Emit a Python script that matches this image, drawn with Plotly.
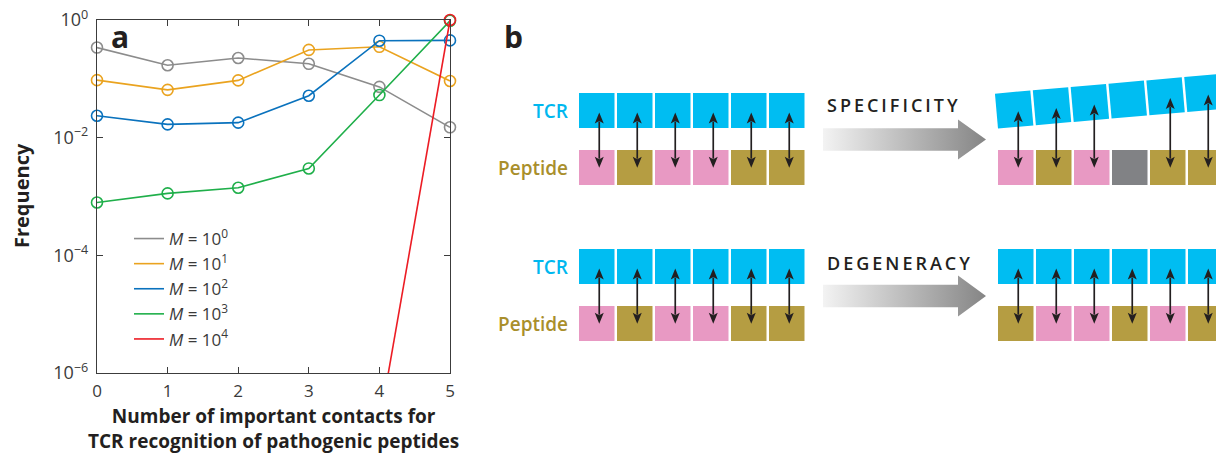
import math
import plotly.graph_objects as go

# ---------------- Panel a data ----------------
contacts = [0, 1, 2, 3, 4, 5]
m_labels = ["0", "1", "2", "3", "4"]
freq_m1 = [0.34, 0.17, 0.226, 0.18, 0.073, 0.015]
freq_m10 = [0.095, 0.065, 0.094, 0.31, 0.35, 0.092]
freq_m100 = [0.0236, 0.0168, 0.018, 0.0516, 0.445, 0.45]
freq_m1000 = [7.9e-4, 1.13e-3, 1.41e-3, 3.0e-3, 0.053, 0.97]
freq_m10000 = [None, None, None, None, 1.35e-7, 1.0]
series_colors = ["#8c8c8c", "#eaa31f", "#0a72bd", "#1faf4a", "#ec1c24"]

y_tick_vals = [1e-6, 1e-4, 1e-2, 1]
y_tick_text = ["10<sup>\u22126</sup>", "10<sup>\u22124</sup>",
               "10<sup>\u22122</sup>", "10<sup>0</sup>"]
y_min_exp, y_max_exp = -6, 0

# ---------------- Panel b data ----------------
peptide_left = ["P", "O", "P", "P", "O", "O"]
peptide_spec = ["P", "O", "P", "X", "O", "O"]
peptide_degen = ["O", "P", "P", "O", "P", "O"]
spec_contacts = [1, 1, 1, 0, 1, 1]
degen_contacts = [1, 1, 1, 1, 1, 1]
residue_colors = {"P": "#e899c3", "O": "#b59d42", "X": "#818285"}
TCR_COLOR = "#00bdf2"
INK = "#231f20"

W, H = 1216, 453
FONT = "Open Sans"

fig = go.Figure()

# ---------------- Panel a ----------------
series = [freq_m1, freq_m10, freq_m100, freq_m1000, freq_m10000]
for vals, col, lab in zip(series, series_colors, m_labels):
    fig.add_trace(go.Scatter(
        x=contacts, y=vals, mode="lines", line=dict(color=col, width=1.6),
        connectgaps=False, showlegend=False, xaxis="x", yaxis="y"))
    # markers only for points inside the axis range
    mx = [c for c, v in zip(contacts, vals) if v is not None and v >= 10 ** y_min_exp]
    my = [v for v in vals if v is not None and v >= 10 ** y_min_exp]
    fig.add_trace(go.Scatter(
        x=mx, y=my, mode="markers", cliponaxis=False,
        marker=dict(symbol="circle-open", size=11, color=col, line=dict(width=1.6)),
        showlegend=False, xaxis="x", yaxis="y"))
    fig.add_trace(go.Scatter(
        x=[None], y=[None], mode="lines", line=dict(color=col, width=1.6),
        name="<i>M</i> = 10<sup>%s</sup>" % lab, showlegend=True,
        xaxis="x", yaxis="y"))

axis_common = dict(showgrid=False, zeroline=False, showline=True, automargin=False,
                   linecolor="#3c3c3c", linewidth=1.4, mirror="ticks",
                   ticks="inside", ticklen=6, tickwidth=1.2, tickcolor="#3c3c3c")

fig.update_layout(
    xaxis=dict(domain=[97 / W, 450 / W], range=[0, 5], tickvals=contacts,
               ticklabelstandoff=2,
               tickfont=dict(family=FONT, size=17, color="#3a3a3a"), **axis_common),
    yaxis=dict(domain=[1 - 373 / H, 1 - 20 / H], type="log",
               range=[y_min_exp, y_max_exp], tickvals=y_tick_vals,
               ticktext=y_tick_text, ticklabelstandoff=4,
               tickfont=dict(family=FONT, size=18, color="#3a3a3a"), **axis_common),
)

# ---------------- Panel b (pixel-like canvas axes) ----------------
fig.add_trace(go.Scatter(x=[None], y=[None], xaxis="x2", yaxis="y2",
                         showlegend=False, hoverinfo="skip"))

shapes = []
annotations = []

BOX_W, BOX_H, PITCH = 35.5, 35, 38
ARROW_DX = 2.5
HEAD_L, HEAD_W = 11, 9


def rect(x0, y0, color):
    shapes.append(dict(type="rect", xref="x2", yref="y2", x0=x0, x1=x0 + BOX_W,
                       y0=y0, y1=y0 + BOX_H, fillcolor=color,
                       line=dict(width=0), layer="above"))


def double_arrow(x, y_top, y_bot):
    shapes.append(dict(type="line", xref="x2", yref="y2", x0=x, x1=x,
                       y0=y_top + HEAD_L - 2, y1=y_bot - HEAD_L + 2,
                       line=dict(color=INK, width=1.7), layer="above"))
    for tip, sgn in ((y_top, 1), (y_bot, -1)):
        base = tip + sgn * HEAD_L
        notch = tip + sgn * (HEAD_L - 2.5)
        path = "M %.2f %.2f L %.2f %.2f L %.2f %.2f L %.2f %.2f Z" % (
            x, tip, x - HEAD_W / 2, base, x, notch, x + HEAD_W / 2, base)
        shapes.append(dict(type="path", xref="x2", yref="y2", path=path,
                           fillcolor=INK, line=dict(width=0), layer="above"))


def grad_arrow(x0, x_neck, x_tip, y_mid, body_h, head_h):
    xs = [x0, x_neck, x_neck, x_tip, x_neck, x_neck, x0, x0]
    ys = [y_mid - body_h / 2, y_mid - body_h / 2, y_mid - head_h / 2, y_mid,
          y_mid + head_h / 2, y_mid + body_h / 2, y_mid + body_h / 2, y_mid - body_h / 2]
    fig.add_trace(go.Scatter(
        x=xs, y=ys, mode="lines", fill="toself", line=dict(width=0),
        fillgradient=dict(type="horizontal",
                          colorscale=[[0, "#f3f3f3"], [1, "#858585"]]),
        xaxis="x2", yaxis="y2", showlegend=False, hoverinfo="skip"))


def flat_group(x0, y_tcr, y_pep, peptide, links):
    for i, (res, link) in enumerate(zip(peptide, links)):
        bx = x0 + i * PITCH
        rect(bx, y_tcr, TCR_COLOR)
        rect(bx, y_pep, residue_colors[res])
        if link:
            double_arrow(bx + BOX_W / 2 + ARROW_DX, y_tcr + BOX_H - 15.5, y_pep + 17.7)


def tilted_group(x0, y_tcr, y_pep, peptide, links, angle_deg):
    th = math.radians(angle_deg)
    d = (math.cos(th), -math.sin(th))
    n = (-math.sin(th), -math.cos(th))
    px, py = x0, y_tcr + BOX_H + 0.5
    for i, (res, link) in enumerate(zip(peptide, links)):
        u0, u1 = i * PITCH, i * PITCH + BOX_W
        pts = []
        for u, v in ((u0, 0), (u1, 0), (u1, BOX_H), (u0, BOX_H)):
            pts.append((px + u * d[0] + v * n[0], py + u * d[1] + v * n[1]))
        path = "M " + " L ".join("%.2f %.2f" % p for p in pts) + " Z"
        shapes.append(dict(type="path", xref="x2", yref="y2", path=path,
                           fillcolor=TCR_COLOR, line=dict(width=0), layer="above"))
        bx = x0 + i * PITCH
        rect(bx, y_pep, residue_colors[res])
        if link:
            ax = bx + BOX_W / 2 + ARROW_DX
            edge_y = py + (ax - px) * d[1] / d[0]
            double_arrow(ax, edge_y - 15.5, y_pep + 17.7)


LEFT_X, RIGHT_X = 579, 998
TOP_TCR, TOP_PEP = 93, 150
BOT_TCR, BOT_PEP = 249, 306

flat_group(LEFT_X, TOP_TCR, TOP_PEP, peptide_left, [1] * 6)
flat_group(LEFT_X, BOT_TCR, BOT_PEP, peptide_left, [1] * 6)
tilted_group(RIGHT_X, TOP_TCR, TOP_PEP, peptide_spec, spec_contacts, 5)
flat_group(RIGHT_X, BOT_TCR, BOT_PEP, peptide_degen, degen_contacts)

grad_arrow(823, 958, 986, 139.5, 22.5, 40)
grad_arrow(823, 958, 986, 296, 22.5, 41)

for y_tcr, y_pep, word, wy in ((TOP_TCR, TOP_PEP, "SPECIFICITY", 105),
                               (BOT_TCR, BOT_PEP, "DEGENERACY", 263)):
    annotations.append(dict(xref="x2", yref="y2", x=570, y=y_tcr + 17.5, text="TCR",
                            showarrow=False, xanchor="right", yanchor="middle",
                            font=dict(family=FONT, size=19, color="#00b8ef", weight=600)))
    annotations.append(dict(xref="x2", yref="y2", x=570, y=y_pep + 17.5, text="Peptide",
                            showarrow=False, xanchor="right", yanchor="middle",
                            font=dict(family=FONT, size=19, color="#a98f2c", weight=600)))
    annotations.append(dict(xref="x2", yref="y2", x=825, y=wy,
                            text="\u2009".join(word), showarrow=False,
                            xanchor="left", yanchor="middle",
                            font=dict(family=FONT, size=18, color=INK, weight=600)))

# panel letters
annotations.append(dict(xref="x2", yref="y2", x=120, y=36, text="<b>a</b>",
                        showarrow=False, font=dict(family=FONT, size=30, color=INK)))
annotations.append(dict(xref="x2", yref="y2", x=513, y=36, text="<b>b</b>",
                        showarrow=False, font=dict(family=FONT, size=30, color=INK)))
# axis titles of panel a
annotations.append(dict(xref="x2", yref="y2", x=21, y=196, text="<b>Frequency</b>",
                        textangle=-90, showarrow=False,
                        font=dict(family=FONT, size=20, color=INK)))
annotations.append(dict(xref="x2", yref="y2", x=273, y=428,
                        text="<b>Number of important contacts for<br>"
                             "TCR recognition of pathogenic peptides</b>",
                        showarrow=False, yanchor="middle",
                        font=dict(family=FONT, size=19, color=INK)))

fig.update_layout(
    width=W, height=H, margin=dict(l=0, r=0, t=0, b=0, autoexpand=False),
    paper_bgcolor="white", plot_bgcolor="rgba(0,0,0,0)",
    xaxis2=dict(domain=[0, 1], range=[0, W], visible=False, fixedrange=True,
                automargin=False),
    yaxis2=dict(domain=[0, 1], range=[H, 0], visible=False, fixedrange=True,
                automargin=False),
    shapes=shapes, annotations=annotations,
    legend=dict(x=129 / W, y=1 - 221 / H, xanchor="left", yanchor="top",
                bgcolor="rgba(0,0,0,0)", tracegroupgap=0, itemwidth=30,
                font=dict(family=FONT, size=17, color="#3a3a3a")),
    showlegend=True,
)

fig.write_html("out.html")
